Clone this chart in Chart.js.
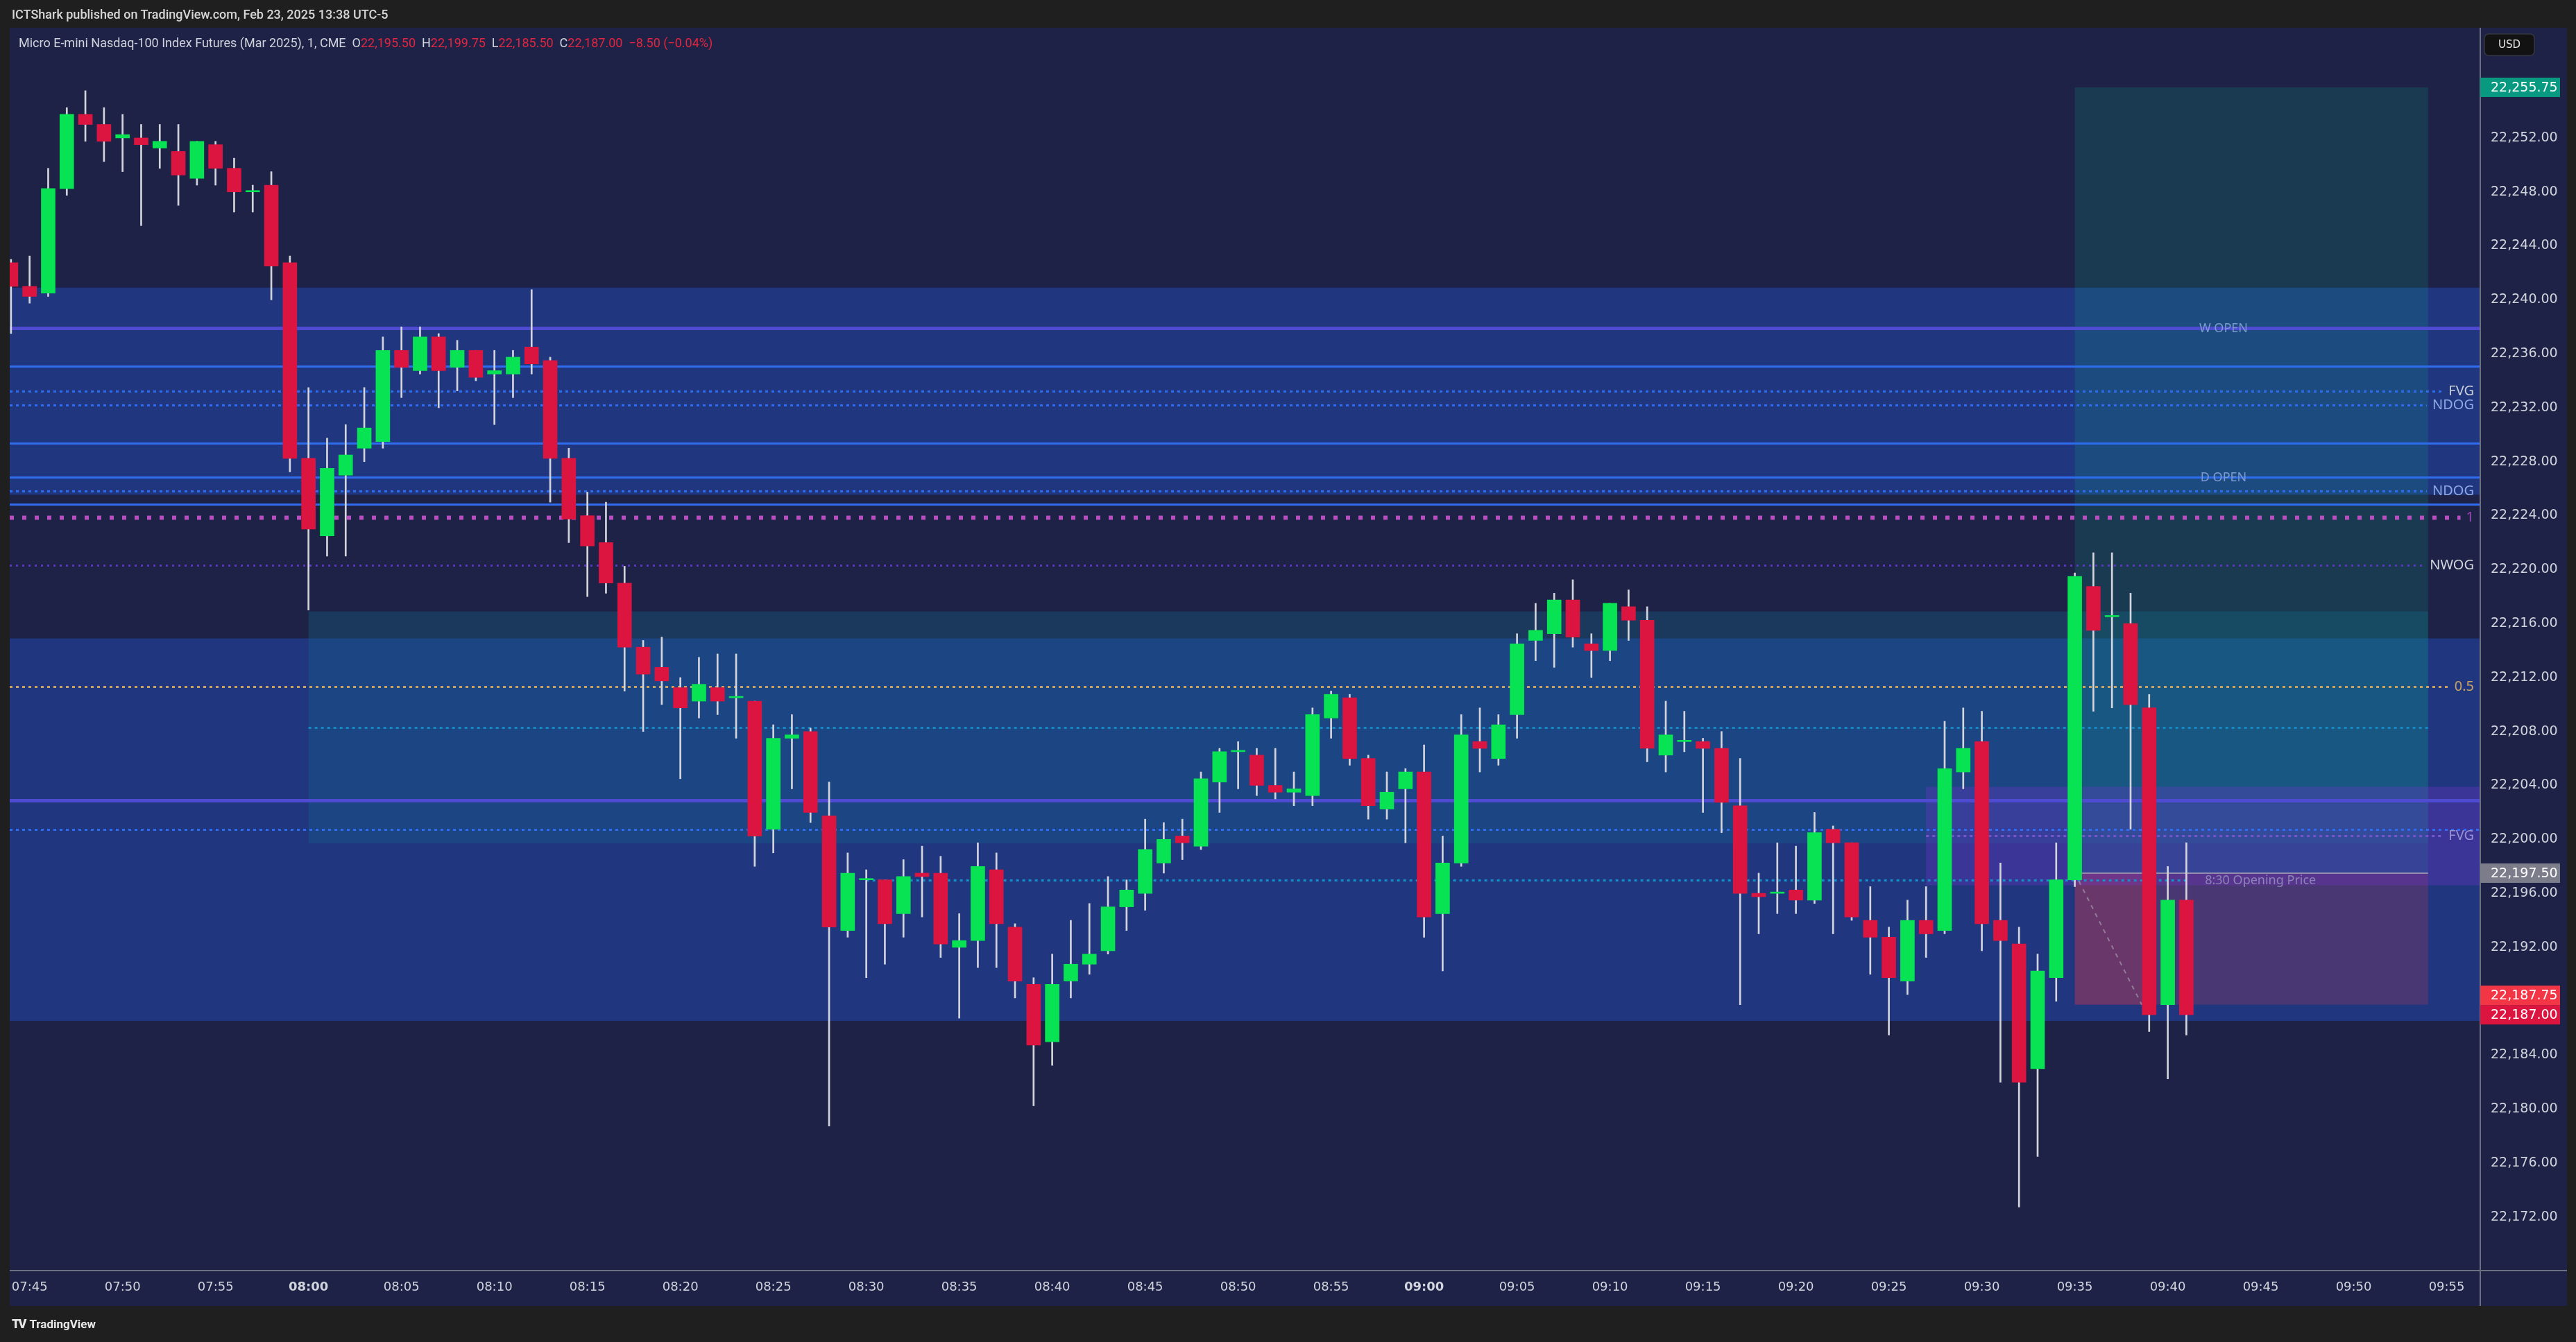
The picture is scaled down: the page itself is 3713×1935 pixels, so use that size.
<!DOCTYPE html>
<html>
<head>
<meta charset="utf-8">
<script src="https://cdn.jsdelivr.net/npm/chart.js@4.4.1/dist/chart.umd.min.js"></script>
<style>
  html, body { margin: 0; padding: 0; background: #1f1f1f; overflow: hidden; }
  #wrap { position: relative; width: 3713px; height: 1935px; }
  #c { position: absolute; left: 0; top: 0; }
  .hdr { position: absolute; left: 17px; top: 10px; font: 500 18px Roboto, sans-serif; color: #d6d6d6; white-space: pre; }
  .legend { position: absolute; left: 27px; top: 51px; font: 400 18px Roboto, sans-serif; color: #d1d4dc; white-space: pre; }
  .legend .v { color: #e3263f; }
  .footer { position: absolute; left: 17px; top: 1898px; font: 700 17px Roboto, sans-serif; color: #e8e8e8; white-space: pre; }
  .footer .logo { font: 900 18px Roboto, sans-serif; letter-spacing: -2px; margin-right: 6px; }
</style>
</head>
<body>
<div id="wrap">
  <canvas id="c" width="3713" height="1935"></canvas>
  <div class="hdr">ICTShark published on TradingView.com, Feb 23, 2025 13:38 UTC-5</div>
  <div class="legend" id="legend"></div>
  <div class="footer"><span class="logo">TV</span>TradingView</div>
</div>
<script>
// Micro E-mini Nasdaq-100 (MNQH2025), 1 minute candles, 07:44 - 09:41
const firstCandle = '07:44';

const opens = [
  22242.75, 22241.0, 22240.5, 22248.25, 22253.75, 22253.0, 22252.0, 22252.0, 22251.25, 22251.0,
  22249.0, 22251.5, 22249.75, 22248.0, 22248.5, 22242.75,
  22228.25, 22222.5, 22227.0, 22229.0, 22229.5, 22236.25, 22234.75, 22237.25, 22235.0, 22236.25,
  22234.5, 22234.5, 22236.5, 22235.5, 22228.25, 22224.0, 22222.0, 22219.0, 22214.25, 22212.75,
  22211.25, 22210.25, 22211.25, 22210.5, 22210.25, 22200.75, 22207.5, 22208.0, 22201.75, 22193.25,
  22197.0, 22197.0, 22194.5, 22197.5, 22197.5, 22192.0, 22192.5, 22197.75, 22193.5, 22189.25,
  22185.0, 22189.5, 22190.75, 22191.75, 22195.0, 22196.0, 22198.25, 22200.25, 22199.5, 22204.25,
  22206.5, 22206.25, 22204.0, 22203.5, 22203.25, 22209.0, 22210.5, 22206.0, 22202.25, 22203.75,
  22205.0, 22194.5, 22198.25, 22207.25, 22206.0, 22209.25, 22214.75, 22215.25, 22217.75, 22214.5,
  22214.0, 22217.25, 22216.25, 22206.25, 22207.25, 22207.25, 22206.75, 22202.5, 22196.0, 22196.0,
  22196.25, 22195.5, 22200.75, 22199.75, 22194.0, 22192.75, 22189.5, 22194.0, 22193.25, 22205.0,
  22207.25, 22194.0, 22192.25, 22183.0, 22189.75, 22197.0, 22218.75, 22216.5, 22216.0, 22209.75,
  22187.75, 22195.5
];
const highs = [
  22243.0, 22243.25, 22249.75, 22254.25, 22255.5, 22254.25, 22253.75, 22253.0, 22253.0, 22253.0,
  22251.75, 22251.75, 22250.5, 22248.5, 22249.5, 22243.25,
  22233.5, 22229.75, 22230.75, 22233.5, 22237.25, 22238.0, 22238.0, 22237.5, 22237.0, 22236.25,
  22236.25, 22236.25, 22240.75, 22235.75, 22229.0, 22225.75, 22225.0, 22220.25, 22214.75, 22215.0,
  22212.0, 22213.5, 22213.75, 22213.75, 22210.25, 22208.5, 22209.25, 22208.25, 22204.25, 22199.0,
  22197.75, 22197.0, 22198.5, 22199.5, 22198.75, 22194.5, 22199.75, 22199.0, 22193.75, 22189.75,
  22191.5, 22194.0, 22195.25, 22197.25, 22197.0, 22201.5, 22201.25, 22201.5, 22205.0, 22206.75,
  22207.25, 22206.75, 22206.75, 22205.0, 22209.75, 22211.0, 22210.75, 22206.25, 22205.0, 22205.25,
  22207.0, 22200.25, 22209.25, 22209.75, 22209.25, 22215.25, 22217.5, 22218.25, 22219.25, 22215.25,
  22217.5, 22218.5, 22217.25, 22210.25, 22209.5, 22207.5, 22208.0, 22206.0, 22197.5, 22199.75,
  22199.5, 22202.0, 22201.0, 22199.75, 22196.5, 22193.5, 22195.5, 22196.5, 22208.75, 22209.75,
  22209.5, 22198.25, 22193.5, 22191.5, 22199.75, 22219.75, 22221.25, 22221.25, 22218.25, 22210.75,
  22198.0, 22199.75
];
const lows = [
  22237.5, 22239.75, 22240.25, 22247.75, 22251.75, 22250.25, 22249.5, 22245.5, 22249.75, 22247.0,
  22248.5, 22248.5, 22246.5, 22246.5, 22240.0, 22227.25,
  22217.0, 22221.0, 22221.0, 22228.0, 22229.0, 22232.75, 22234.5, 22232.0, 22233.25, 22234.0,
  22230.75, 22232.75, 22234.5, 22225.0, 22222.0, 22218.0, 22218.25, 22211.0, 22208.0, 22210.0,
  22204.5, 22209.0, 22209.25, 22207.5, 22198.0, 22199.0, 22203.75, 22201.25, 22178.75, 22192.75,
  22189.75, 22190.75, 22192.75, 22194.25, 22191.25, 22186.75, 22190.5, 22190.5, 22188.25, 22180.25,
  22183.25, 22188.25, 22190.0, 22191.5, 22193.25, 22194.75, 22197.5, 22198.5, 22199.25, 22202.0,
  22203.75, 22203.25, 22203.0, 22202.5, 22202.5, 22207.5, 22205.5, 22201.5, 22201.5, 22199.75,
  22192.75, 22190.25, 22198.0, 22205.0, 22205.5, 22207.5, 22213.25, 22212.75, 22214.25, 22212.0,
  22213.25, 22214.75, 22205.75, 22205.0, 22206.5, 22202.0, 22200.5, 22187.75, 22193.0, 22194.5,
  22194.5, 22195.25, 22193.0, 22194.0, 22190.0, 22185.5, 22188.5, 22191.25, 22193.0, 22203.75,
  22191.75, 22182.0, 22172.75, 22176.5, 22188.0, 22196.5, 22209.5, 22209.75, 22200.75, 22185.75,
  22182.25, 22185.5
];
const closes = [
  22241.0, 22240.25, 22248.25, 22253.75, 22253.0, 22251.75, 22252.25, 22251.5, 22251.75, 22249.25,
  22251.75, 22249.75, 22248.0, 22248.0, 22242.5, 22228.25,
  22223.0, 22227.5, 22228.5, 22230.5, 22236.25, 22235.0, 22237.25, 22234.75, 22236.25, 22234.25,
  22234.75, 22235.75, 22235.25, 22228.25, 22223.75, 22221.75, 22219.0, 22214.25, 22212.25, 22211.75,
  22209.75, 22211.5, 22210.25, 22210.5, 22200.25, 22207.5, 22207.75, 22202.0, 22193.5, 22197.5,
  22197.0, 22193.75, 22197.25, 22197.25, 22192.25, 22192.5, 22198.0, 22193.75, 22189.5, 22184.75,
  22189.25, 22190.75, 22191.5, 22195.0, 22196.25, 22199.25, 22200.0, 22199.75, 22204.5, 22206.5,
  22206.5, 22204.0, 22203.5, 22203.75, 22209.25, 22210.75, 22206.0, 22202.5, 22203.5, 22205.0,
  22194.25, 22198.25, 22207.75, 22206.75, 22208.5, 22214.5, 22215.5, 22217.75, 22215.0, 22214.0,
  22217.5, 22216.25, 22206.75, 22207.75, 22207.25, 22206.75, 22202.75, 22196.0, 22195.75, 22196.0,
  22195.5, 22200.5, 22199.75, 22194.25, 22192.75, 22189.75, 22194.0, 22193.0, 22205.25, 22206.75,
  22193.75, 22192.5, 22182.0, 22190.25, 22197.0, 22219.5, 22215.5, 22216.5, 22210.0, 22187.0,
  22195.5, 22187.0
];

const timeLabels = ['07:45', '07:50', '07:55', '08:00', '08:05', '08:10', '08:15', '08:20', '08:25',
  '08:30', '08:35', '08:40', '08:45', '08:50', '08:55', '09:00', '09:05', '09:10', '09:15', '09:20',
  '09:25', '09:30', '09:35', '09:40', '09:45', '09:50', '09:55'];
const priceTicks = [22172, 22176, 22180, 22184, 22188, 22192, 22196, 22200, 22204, 22208, 22212,
  22216, 22220, 22224, 22228, 22232, 22236, 22240, 22244, 22248, 22252];

// drawn levels / zones
const bandTops = [22240.9, 22214.9];
const bandBottoms = [22225.55, 22186.55];
const fvgBox = ['08:00', '09:54', 22216.9, 22199.7];
const purpleBox = ['09:27', null, 22203.9, 22196.6];
const positionTimes = ['09:35', '09:54'];
const positionPrices = [22255.75, 22197.5, 22187.75];   // target, entry, stop
const stopHitTime = '09:38.6';

const levelPrices = [22237.9, 22235.1, 22233.25, 22232.2, 22229.35, 22226.85, 22225.85, 22224.85,
  22223.85, 22220.3, 22211.35, 22208.3, 22202.9, 22200.75, 22200.3, 22197.0];
const levelKinds = ['open', 'edge', 'ce', 'ndog', 'edge', 'dopen', 'ndog', 'edge',
  'fib1', 'nwog', 'fib', 'mid', 'open', 'ce', 'fvg', 'session'];
const levelText = ['W OPEN', '', 'FVG', 'NDOG', '', 'D OPEN', 'NDOG', '',
  '1', 'NWOG', '0.5', '', '', '', 'FVG', '8:30 Opening Price'];
const levelFrom = [null, null, null, null, null, null, null, null,
  null, null, null, '08:00', null, null, '09:27', '08:30'];
const levelTo = [null, null, null, null, null, null, null, null,
  null, null, null, '09:54', null, null, null, null];

const priceMarks = [22255.75, 22197.50, 22187.75, 22187.00];
const priceMarkColors = ['#089981', '#7b7e8a', '#f23645', '#dc1440'];

// ---------------------------------------------------------------
function toMin(t) {
  const p = t.split(':');
  return Number(p[0]) * 60 + Number(p[1]);
}
function fmtTime(v) {
  const h = Math.floor(v / 60), m = Math.round(v - h * 60);
  return String(h).padStart(2, '0') + ':' + String(m).padStart(2, '0');
}
function fmtPrice(v) {
  return Number(v).toLocaleString('en-US', { minimumFractionDigits: 2, maximumFractionDigits: 2 });
}

const start = toMin(firstCandle);
const upColor = '#08e354';
const downColor = '#dc1440';

const wickData = opens.map((o, i) => ({ x: start + i, y: [lows[i], highs[i]] }));
const bodyData = opens.map((o, i) => ({ x: start + i, y: [o, closes[i]] }));
const bodyColors = opens.map((o, i) => closes[i] >= o ? upColor : downColor);

// legend from the last candle
(function () {
  const n = closes.length - 1;
  const chg = closes[n] - closes[n - 1];
  const pct = chg / closes[n - 1] * 100;
  const sign = v => (v < 0 ? '\u2212' : '+') + Math.abs(v).toFixed(2);
  document.getElementById('legend').innerHTML =
    'Micro E-mini Nasdaq-100 Index Futures (Mar 2025), 1, CME  ' +
    'O<span class="v">' + fmtPrice(opens[n]) + '</span>  ' +
    'H<span class="v">' + fmtPrice(highs[n]) + '</span>  ' +
    'L<span class="v">' + fmtPrice(lows[n]) + '</span>  ' +
    'C<span class="v">' + fmtPrice(closes[n]) + '</span>  ' +
    '<span class="v">' + sign(chg) + ' (' + sign(pct) + '%)</span>';
})();

const lineStyle = {
  open:    { color: '#4e4bd0', width: 5, dash: [] },
  edge:    { color: '#2f6cf0', width: 3, dash: [] },
  dopen:   { color: '#2f6cf0', width: 3, dash: [] },
  ce:      { color: '#2f6cf0', width: 3, dash: [4, 5] },
  ndog:    { color: '#2f6cf0', width: 3, dash: [4, 5] },
  fib1:    { color: '#b74fc0', width: 6, dash: [6, 12] },
  nwog:    { color: '#5a37ba', width: 3, dash: [3, 6] },
  fib:     { color: '#c9a163', width: 3, dash: [4, 5] },
  mid:     { color: '#138ac4', width: 3, dash: [4, 5] },
  fvg:     { color: '#7654cc', width: 3, dash: [4, 5] },
  session: { color: '#1590c8', width: 3, dash: [4, 5] }
};
const labelColor = {
  open: '#7d9ad0', dopen: '#7d9ad0', ce: '#c9cdd9', ndog: '#8eaae6', fib1: '#a244b4',
  nwog: '#d4d6de', fib: '#c9a163', fvg: '#9c8fd2', session: '#8c85b5'
};

const overlays = {
  id: 'overlays',
  beforeDraw(chart) {
    const ctx = chart.ctx;
    ctx.save();
    ctx.fillStyle = '#1e2246';
    ctx.fillRect(14, 40, 3686, 1843);
    ctx.restore();
  },
  beforeDatasetsDraw(chart) {
    const { ctx, chartArea: a } = chart;
    const xs = t => t == null ? null : chart.scales.x.getPixelForValue(toMin(t));
    const ys = p => chart.scales.y.getPixelForValue(p);
    const box = (t0, t1, p0, p1, fill) => {
      const x0 = t0 == null ? a.left : xs(t0);
      const x1 = t1 == null ? a.right : xs(t1);
      ctx.fillStyle = fill;
      ctx.fillRect(x0, ys(p0), x1 - x0, ys(p1) - ys(p0));
    };
    ctx.save();
    ctx.beginPath();
    ctx.rect(a.left, a.top, a.right - a.left, a.bottom - a.top);
    ctx.clip();

    bandTops.forEach((top, i) => box(null, null, top, bandBottoms[i], '#20377f'));
    box(fvgBox[0], fvgBox[1], fvgBox[2], fvgBox[3], 'rgba(22,104,140,0.33)');
    box(positionTimes[0], positionTimes[1], positionPrices[0], positionPrices[1], 'rgba(8,153,129,0.2)');
    box(positionTimes[0], positionTimes[1], positionPrices[1], positionPrices[2], 'rgba(242,54,69,0.2)');
    box(positionTimes[0], stopHitTime, positionPrices[1], positionPrices[2], 'rgba(242,54,69,0.2)');
    box(purpleBox[0], purpleBox[1], purpleBox[2], purpleBox[3], 'rgba(120,50,210,0.3)');

    // horizontal levels
    const wAnchor = xs('09:43');
    levelPrices.forEach((p, i) => {
      const kind = levelKinds[i];
      const st = lineStyle[kind];
      const text = levelText[i];
      const y = Math.round(ys(p)) + 0.5;
      let x0 = levelFrom[i] == null ? a.left : xs(levelFrom[i]);
      let x1 = levelTo[i] == null ? a.right : xs(levelTo[i]);
      const onRight = text && kind !== 'open' && kind !== 'dopen' && kind !== 'session';
      ctx.font = '20px "Noto Sans"';
      if (onRight) {
        x1 = a.right - 8 - ctx.measureText(text).width - 8;
      }
      if (kind === 'session') {
        x1 = xs('09:42') - 25;
      }
      ctx.strokeStyle = st.color;
      ctx.lineWidth = st.width;
      ctx.setLineDash(st.dash);
      ctx.beginPath();
      ctx.moveTo(x0, y);
      ctx.lineTo(x1, y);
      ctx.stroke();
      ctx.setLineDash([]);
      if (!text) return;
      ctx.fillStyle = labelColor[kind];
      ctx.textBaseline = 'middle';
      if (onRight) {
        ctx.textAlign = 'right';
        ctx.fillText(text, a.right - 8, y);
      } else if (kind === 'session') {
        ctx.font = '18px "Noto Sans"';
        ctx.textAlign = 'left';
        ctx.fillText(text, xs('09:42'), y);
      } else {
        ctx.font = '18px "Noto Sans"';
        ctx.textAlign = 'center';
        ctx.fillText(text, wAnchor, y);
      }
    });

    // position tool: entry line and path to the stop
    const ex0 = xs(positionTimes[0]), ex1 = xs(positionTimes[1]);
    ctx.strokeStyle = 'rgba(170,170,180,0.75)';
    ctx.lineWidth = 2;
    ctx.beginPath();
    ctx.moveTo(ex0, ys(positionPrices[1]));
    ctx.lineTo(ex1, ys(positionPrices[1]));
    ctx.stroke();
    ctx.setLineDash([6, 7]);
    ctx.strokeStyle = 'rgba(170,170,180,0.6)';
    ctx.beginPath();
    ctx.moveTo(ex0, ys(positionPrices[1]));
    ctx.lineTo(xs(stopHitTime), ys(positionPrices[2]));
    ctx.stroke();
    ctx.restore();
  },
  afterDraw(chart) {
    const { ctx, chartArea: a } = chart;
    const ys = p => chart.scales.y.getPixelForValue(p);
    ctx.save();
    // separators
    ctx.strokeStyle = '#6c6f80';
    ctx.lineWidth = 2;
    ctx.beginPath();
    ctx.moveTo(a.right + 1, 40);
    ctx.lineTo(a.right + 1, 1883);
    ctx.moveTo(14, a.bottom + 1);
    ctx.lineTo(3700, a.bottom + 1);
    ctx.stroke();

    // price marks on the axis, pushed apart when they overlap
    const h = 28;
    const marks = priceMarks.map((p, i) => ({ p, c: priceMarkColors[i], y: ys(p) }))
      .sort((m1, m2) => m2.y - m1.y);
    for (let i = 1; i < marks.length; i++) {
      if (marks[i - 1].y - marks[i].y < h) marks[i].y = marks[i - 1].y - h;
    }
    ctx.font = '19px "DejaVu Sans"';
    ctx.textBaseline = 'middle';
    ctx.textAlign = 'left';
    marks.forEach(m => {
      ctx.fillStyle = m.c;
      ctx.fillRect(a.right + 1, m.y - h / 2, 115, h);
      ctx.fillStyle = '#ffffff';
      ctx.fillText(fmtPrice(m.p), a.right + 16, m.y + 1);
    });

    // currency button
    ctx.fillStyle = '#121212';
    ctx.strokeStyle = '#34373f';
    ctx.lineWidth = 1.5;
    ctx.beginPath();
    ctx.roundRect(3581, 49, 72, 31, 6);
    ctx.fill();
    ctx.stroke();
    ctx.fillStyle = '#e6e6e6';
    ctx.font = '15px "DejaVu Sans"';
    ctx.textAlign = 'center';
    ctx.fillText('USD', 3617, 65);
    ctx.restore();
  }
};

new Chart(document.getElementById('c'), {
  type: 'bar',
  data: {
    datasets: [
      {
        label: 'wick',
        data: wickData,
        backgroundColor: '#d4d4dc',
        barThickness: 2,
        grouped: false,
        order: 2
      },
      {
        label: 'body',
        data: bodyData,
        backgroundColor: bodyColors,
        barThickness: 20,
        minBarLength: 2,
        grouped: false,
        borderSkipped: false,
        order: 1
      }
    ]
  },
  options: {
    responsive: false,
    animation: false,
    devicePixelRatio: 1,
    layout: { padding: { left: 14, right: 13, top: 40, bottom: 52 } },
    plugins: { legend: { display: false }, tooltip: { enabled: false } },
    scales: {
      x: {
        type: 'linear',
        offset: false,
        min: toMin('07:45') - 1.07,
        max: toMin('07:45') + 131.77,
        grid: { display: false, drawTicks: false },
        border: { display: false },
        afterBuildTicks: s => { s.ticks = timeLabels.map(t => ({ value: toMin(t) })); },
        afterFit: s => { s.height = 52; },
        ticks: {
          color: '#d1d4dc',
          padding: 15,
          autoSkip: false,
          maxRotation: 0,
          font: c => ({ family: 'DejaVu Sans', size: 18, weight: c.tick && c.tick.value % 60 === 0 ? 'bold' : 'normal' }),
          callback: v => fmtTime(v)
        }
      },
      y: {
        position: 'right',
        min: 22168.09,
        max: 22260.17,
        grid: { display: false, drawTicks: false },
        border: { display: false },
        afterBuildTicks: s => { s.ticks = priceTicks.map(v => ({ value: v })); },
        afterFit: s => { s.width = 126; },
        ticks: {
          color: '#d1d4dc',
          padding: 16,
          crossAlign: 'near',
          autoSkip: false,
          font: { family: 'DejaVu Sans', size: 19 },
          callback: v => fmtPrice(v)
        }
      }
    }
  },
  plugins: [overlays]
});
</script>
</body>
</html>
